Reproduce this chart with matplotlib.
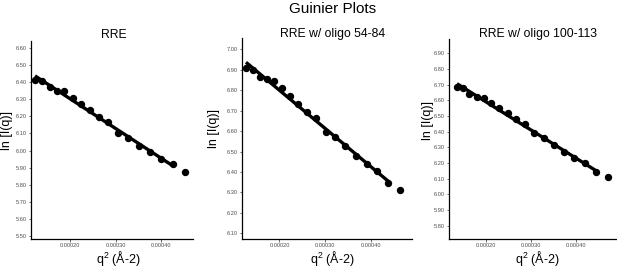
import numpy as np
import matplotlib
matplotlib.use("Agg")
import matplotlib.pyplot as plt

plt.rcParams['font.family'] = ['Liberation Sans', 'DejaVu Sans']
plt.rcParams['mathtext.fontset'] = 'custom'
plt.rcParams['mathtext.rm'] = 'Liberation Sans'
plt.rcParams['mathtext.it'] = 'Liberation Sans'

# ---- data (q^2 in A^-2, ln I(q)) ----
rre_q2 = [0.0001237, 0.0001401, 0.0001559, 0.0001712, 0.0001878, 0.0002058,
          0.0002244, 0.0002432, 0.0002633, 0.0002839, 0.0003049, 0.0003279,
          0.0003517, 0.0003753, 0.0004001, 0.0004252, 0.0004519]
rre_lnI = [6.413, 6.406, 6.373, 6.349, 6.348, 6.308, 6.273, 6.234, 6.193,
           6.167, 6.104, 6.072, 6.028, 5.989, 5.951, 5.924, 5.877]

o54_q2 = [0.0001270, 0.0001417, 0.0001576, 0.0001722, 0.0001881, 0.0002049,
          0.0002230, 0.0002411, 0.0002601, 0.0002797, 0.0003009, 0.0003212,
          0.0003430, 0.0003663, 0.0003903, 0.0004121, 0.0004374, 0.0004629]
o54_lnI = [6.907, 6.899, 6.863, 6.855, 6.845, 6.809, 6.773, 6.734, 6.692,
           6.665, 6.597, 6.572, 6.528, 6.479, 6.437, 6.405, 6.347, 6.312]

o100_q2 = [0.0001360, 0.0001487, 0.0001633, 0.0001804, 0.0001953, 0.0002122,
           0.0002300, 0.0002487, 0.0002678, 0.0002871, 0.0003078, 0.0003287,
           0.0003509, 0.0003731, 0.0003967, 0.0004198, 0.0004456, 0.0004716]
o100_lnI = [6.687, 6.677, 6.640, 6.623, 6.613, 6.581, 6.549, 6.517, 6.479,
            6.449, 6.393, 6.358, 6.315, 6.272, 6.230, 6.198, 6.144, 6.109]

titles = ["RRE", "RRE w/ oligo 54-84", "RRE w/ oligo 100-113"]
yticks_list = [np.round(np.arange(5.50, 6.601, 0.10), 2),
               np.round(np.arange(6.10, 7.001, 0.10), 2),
               np.round(np.arange(5.80, 6.901, 0.10), 2)]
xticks = [0.00020, 0.00030, 0.00040]
xtick_labels = ["0.00020", "0.00030", "0.00040"]

W, H = 617, 267
fig = plt.figure(figsize=(W / 100, H / 100), dpi=100)

# layout (pixels): left, right, top, bottom of each panel
boxes = [(31, 193, 41, 239), (242.3, 412, 38.3, 239.3), (449.3, 617, 39.3, 239.3)]
xlims = [(0.000115, 0.000469), (0.000119, 0.000489), (0.000119, 0.0004916)]
ylims = [(5.4845, 6.639), (6.0705, 7.054), (5.713, 6.989)]
title_x = [114, 333, 538]
xlabel_x = [118, 332, 537]
ylabel_pos = [(7, 130), (214, 128), (428, 121)]

datasets = [(rre_q2, rre_lnI), (o54_q2, o54_lnI), (o100_q2, o100_lnI)]

for i, (x, y) in enumerate(datasets):
    l, r, t, b = boxes[i]
    ax = fig.add_axes([l / W, 1 - b / H, (r - l) / W, (b - t) / H])
    x = np.array(x)
    y = np.array(y)
    # fit excludes the last point
    coef = np.polyfit(x[:-1], y[:-1], 1)
    xf = np.array([x[0], x[-2]])
    ax.plot(xf, np.polyval(coef, xf), color='black', lw=2.4, solid_capstyle='butt', zorder=2)
    ax.plot(x, y, 'o', color='black', ms=4.3, zorder=3)
    ax.set_xlim(*xlims[i])
    ax.set_ylim(*ylims[i])
    ax.set_xticks(xticks)
    ax.set_xticklabels(xtick_labels)
    yt = yticks_list[i]
    ax.set_yticks(yt)
    ax.set_yticklabels([f"{v:.2f}" for v in yt])
    for s in ['top', 'right']:
        ax.spines[s].set_visible(False)
    for s in ['left', 'bottom']:
        ax.spines[s].set_linewidth(0.9)
        ax.spines[s].set_color('black')
    ax.tick_params(axis='both', labelsize=4.1, length=1.8, width=0.5,
                   pad=1.2, colors='#333333', labelcolor='#4d4d4d')
    fig.text(title_x[i] / W, 1 - 37.5 / H, titles[i], ha='center', va='baseline',
             fontsize=8.8)
    fig.text(xlabel_x[i] / W, 1 - 263 / H, r'q$^{\mathregular{2}}$ (Å-2)',
             ha='center', va='baseline', fontsize=9)
    yx, yy = ylabel_pos[i]
    fig.text(yx / W, 1 - yy / H, 'ln [I(q)]', ha='center', va='center',
             rotation=90, fontsize=9)

fig.text(333 / W, 1 - 13 / H, 'Guinier Plots', ha='center', va='baseline', fontsize=11)

fig.savefig('out.png', dpi=100)
